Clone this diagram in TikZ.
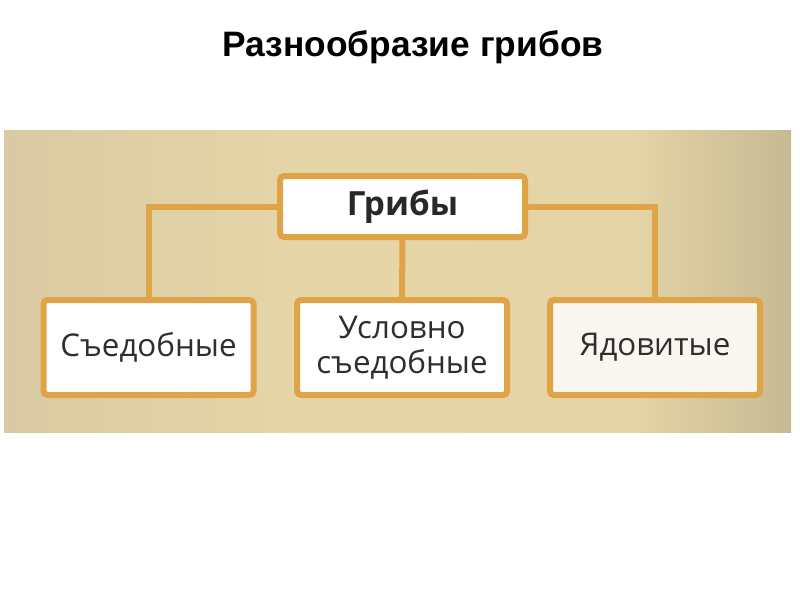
\documentclass[tikz,border=0pt]{standalone}
\usepackage{fontspec}
\setmainfont{Open Sans}
\newfontfamily\titlefont{Liberation Sans}
\definecolor{frame}{HTML}{E0A448}
\definecolor{txt}{HTML}{2E2E2E}
\pgfdeclarehorizontalshading{panelshade}{100bp}{%
  color(0bp)=(rgb,255:red,217;green,202;blue,163);
  color(25bp)=(rgb,255:red,217;green,202;blue,163);
  color(44bp)=(rgb,255:red,229;green,213;blue,167);
  color(65bp)=(rgb,255:red,228;green,212;blue,166);
  color(75bp)=(rgb,255:red,199;green,185;blue,147);
  color(100bp)=(rgb,255:red,199;green,185;blue,147)}
\tikzset{
  box/.style={draw=frame, line width=4.5pt, fill=white, rounded corners=3pt,
    text=txt, align=center, inner sep=0pt},
  link/.style={draw=frame, line width=4.5pt},
  leaf/.style={box, minimum width=216*0.75pt-4.5pt, minimum height=101*0.75pt-4.5pt,
    font=\fontsize{23.5}{26.5}\selectfont},
}
\begin{document}
\begin{tikzpicture}[x=0.75pt,y=-0.75pt]
\useasboundingbox (0,0) rectangle (800,600);
\fill[white] (0,0) rectangle (800,600);
\shade[shading=panelshade] (4,130) rectangle (791,432);
\node[font=\titlefont\bfseries\fontsize{26.5}{30}\selectfont, text=black] (title) at (413,47) {Разнообразие грибов};
\node[box, minimum width=251*0.75pt-4.5pt, minimum height=67*0.75pt-4.5pt, font=\bfseries\fontsize{25}{30}\selectfont, text={rgb,255:red,40;green,40;blue,40}] (root) at (402.5,206.5) {Грибы};
\node[leaf] (edible) at (148.5,347.5) {Съедобные};
\node[leaf] (cond) at (402,347.5) {Условно\\съедобные};
\node[leaf, fill={rgb,255:red,250;green,247;blue,240}] (poison) at (655,347.5) {Ядовитые};
\draw[link] (root.west) -| (edible.north);
\draw[link] (root.east) -| (poison.north);
\draw[link] (root.south) -- (cond.north);
\end{tikzpicture}
\end{document}
